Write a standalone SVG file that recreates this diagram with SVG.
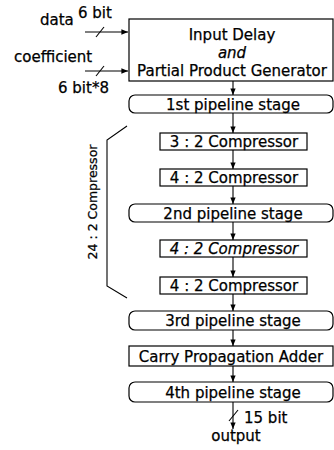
<svg xmlns="http://www.w3.org/2000/svg" width="334" height="450" viewBox="0 0 334 450">
  <style>
    text { font-family: "DejaVu Sans", "Liberation Sans", sans-serif; font-size: 15px; fill: #000; stroke: #000; stroke-width: 0.25; }
    .c { text-anchor: middle; }
    .it { font-style: italic; }
    .box { fill: #fff; stroke: #000; stroke-width: 1.2; }
    .wire { fill: none; stroke: #000; stroke-width: 1.1; }
  </style>
  <defs>
    <marker id="arr" viewBox="0 0 10 10" refX="10" refY="5" markerWidth="6" markerHeight="6" orient="auto">
      <path d="M0,1 L10,5 L0,9 Z" fill="#000"/>
    </marker>
  </defs>

  <!-- connectors -->
  <g id="connectors">
    <line class="wire" x1="85" y1="32" x2="128" y2="32" marker-end="url(#arr)"/>
    <line class="wire" x1="96" y1="37" x2="104" y2="27"/>
    <line class="wire" x1="85" y1="71" x2="128" y2="71" marker-end="url(#arr)"/>
    <line class="wire" x1="96" y1="76" x2="104" y2="66"/>
    <line class="wire" x1="233" y1="81" x2="233" y2="95" marker-end="url(#arr)"/>
    <line class="wire" x1="233" y1="113" x2="233" y2="133" marker-end="url(#arr)"/>
    <line class="wire" x1="233" y1="150" x2="233" y2="169" marker-end="url(#arr)"/>
    <line class="wire" x1="233" y1="186" x2="233" y2="204" marker-end="url(#arr)"/>
    <line class="wire" x1="233" y1="222" x2="233" y2="240" marker-end="url(#arr)"/>
    <line class="wire" x1="233" y1="257" x2="233" y2="277" marker-end="url(#arr)"/>
    <line class="wire" x1="233" y1="294" x2="233" y2="311" marker-end="url(#arr)"/>
    <line class="wire" x1="233" y1="330" x2="233" y2="346" marker-end="url(#arr)"/>
    <line class="wire" x1="233" y1="366" x2="233" y2="382" marker-end="url(#arr)"/>
    <line class="wire" x1="233" y1="402" x2="233" y2="429" marker-end="url(#arr)"/>
    <line class="wire" x1="229" y1="421" x2="238" y2="410"/>
    <!-- bracket grouping the compressor tree -->
    <polyline class="wire" points="127,126 107,140 107,286 127,298"/>
  </g>

  <!-- inputs -->
  <g id="in-data">
    <text x="40" y="25">data</text>
    <text x="78" y="18">6 bit</text>
  </g>
  <g id="in-coef">
    <text x="14" y="62">coefficient</text>
    <text x="58" y="93">6 bit*8</text>
  </g>

  <g id="ppg">
    <rect class="box" x="129" y="19" width="204" height="62"/>
    <text class="c" x="232" y="40">Input Delay</text>
    <text class="c it" x="232" y="58">and</text>
    <text class="c" x="232" y="76">Partial Product Generator</text>
  </g>

  <g id="stage1">
    <rect class="box" x="129" y="95" width="204" height="18" rx="6"/>
    <text class="c" x="233" y="109.5">1st pipeline stage</text>
  </g>

  <g id="comp32">
    <rect class="box" x="160" y="133" width="147" height="17"/>
    <text class="c" x="234" y="147">3 : 2 Compressor</text>
  </g>

  <g id="comp42a">
    <rect class="box" x="160" y="169" width="147" height="17"/>
    <text class="c" x="234" y="183">4 : 2 Compressor</text>
  </g>

  <g id="stage2">
    <rect class="box" x="129" y="204" width="204" height="18" rx="6"/>
    <text class="c" x="233" y="218.5">2nd pipeline stage</text>
  </g>

  <g id="comp42b">
    <rect class="box" x="160" y="240" width="147" height="17"/>
    <text class="c it" x="234" y="254">4 : 2 Compressor</text>
  </g>

  <g id="comp42c">
    <rect class="box" x="160" y="277" width="147" height="17"/>
    <text class="c" x="234" y="291">4 : 2 Compressor</text>
  </g>

  <g id="stage3">
    <rect class="box" x="129" y="311" width="204" height="19" rx="6"/>
    <text class="c" x="233" y="326">3rd pipeline stage</text>
  </g>

  <g id="cpa">
    <rect class="box" x="129" y="346" width="204" height="20"/>
    <text class="c" x="231" y="361.5">Carry Propagation Adder</text>
  </g>

  <g id="stage4">
    <rect class="box" x="129" y="382" width="204" height="20" rx="6"/>
    <text class="c" x="233" y="397.5">4th pipeline stage</text>
  </g>

  <g id="out">
    <text x="244" y="423">15 bit</text>
    <text class="c" x="236" y="441">output</text>
  </g>

  <g id="tree-label">
    <text class="c" transform="translate(97,202) rotate(-90)" style="font-size:12.5px">24 : 2 Compressor</text>
  </g>
</svg>
